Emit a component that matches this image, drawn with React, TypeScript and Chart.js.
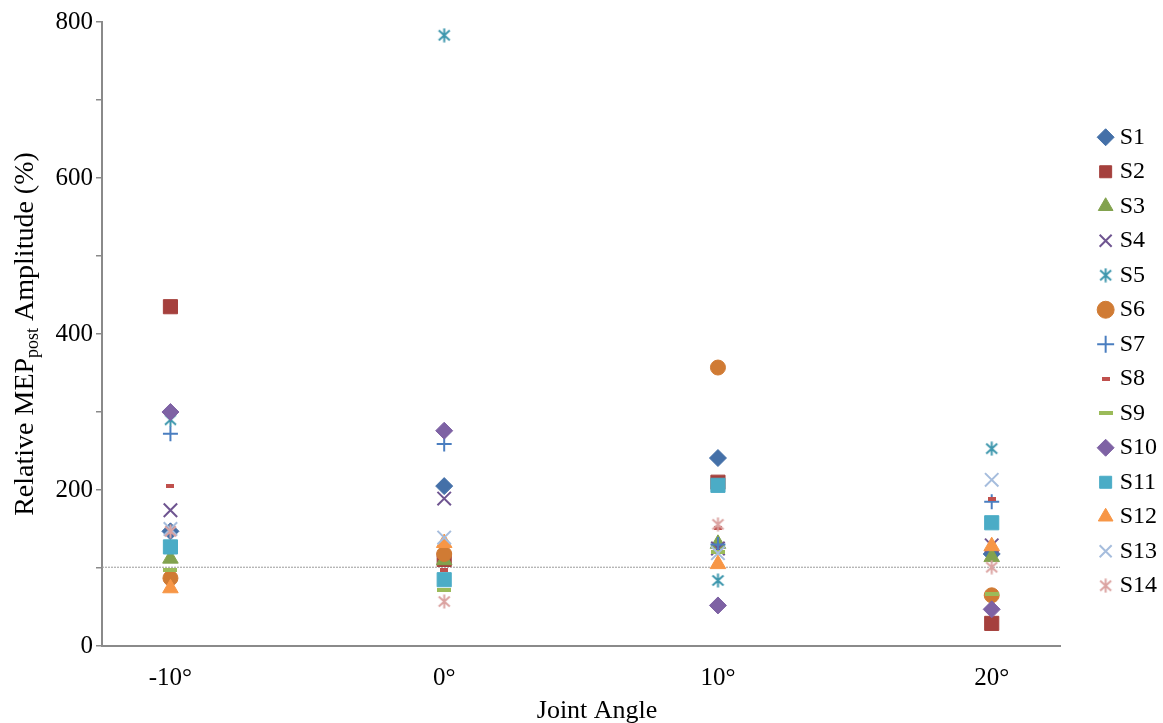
import React, { useEffect, useRef } from 'react';
import { Chart, registerables } from 'chart.js';

Chart.register(...registerables);

// ---------- data ----------
const angles = [-10, 0, 10, 20];
const angleLabels = ['-10°', '0°', '10°', '20°'];
const yTickMarks = [0, 100, 200, 300, 400, 500, 600, 700, 800];
const yTickLabels = ['0', '200', '400', '600', '800'];
const seriesNames = ['S1', 'S2', 'S3', 'S4', 'S5', 'S6', 'S7', 'S8', 'S9', 'S10', 'S11', 'S12', 'S13', 'S14'];

const s1 = [147, 205, 241, 118];
const s2 = [435, 111, 210, 29];
const s3 = [112, 110, 131, 114];
const s4 = [174, 189, 125, 129];
const s5 = [290, 783, 84, 253];
const s6 = [87, 118, 357, 65];
const s7 = [272, 259, 130, 185];
const s8 = [205, 97, 151, 188];
const s9 = [98, 72, 121, 67];
const s10 = [300, 276, 52, 47];
const s11 = [127, 85, 206, 158];
const s12 = [74, 132, 105, 128];
const s13 = [150, 139, 119, 213];
const s14 = [147, 57, 156, 101];
const seriesValues = [s1, s2, s3, s4, s5, s6, s7, s8, s9, s10, s11, s12, s13, s14];

const referenceLevel = 101;
const xRange = [-12.5, 22.5];

// ---------- styles ----------
const colors = [
  '#4470A8', '#A5403D', '#82A24E', '#6F5591', '#3E97AD', '#D07B34', '#4A7EC0',
  '#C0504D', '#9BBB59', '#7E62A4', '#4BACC6', '#F79646', '#A6BDDD', '#DBA3A1',
];
const FONT = '"Liberation Serif", "Times New Roman", serif';

function makeAsterisk(color: string): HTMLCanvasElement {
  const c = document.createElement('canvas');
  c.width = 15; c.height = 15;
  const g = c.getContext('2d')!;
  g.strokeStyle = color; g.lineWidth = 2;
  g.beginPath();
  g.moveTo(7.5, 0.5); g.lineTo(7.5, 14.5);
  g.moveTo(2, 2.5); g.lineTo(13, 12.5);
  g.moveTo(13, 2.5); g.lineTo(2, 12.5);
  g.stroke();
  return c;
}
function makeDash(color: string, w: number, h: number): HTMLCanvasElement {
  const c = document.createElement('canvas');
  c.width = w; c.height = h;
  const g = c.getContext('2d')!;
  g.fillStyle = color; g.fillRect(0, 0, w, h);
  return c;
}

const axisTitles = {
  id: 'axisTitles',
  afterDraw(chart: any) {
    const { ctx, chartArea } = chart;
    ctx.save();
    ctx.fillStyle = '#000';
    ctx.textBaseline = 'alphabetic';
    ctx.textAlign = 'center';
    ctx.font = `26px ${FONT}`;
    ctx.fillText('Joint Angle', (chartArea.left + chartArea.right) / 2 + 16, 718);

    const main = `28px ${FONT}`;
    const sub = `18px ${FONT}`;
    const p1 = 'Relative MEP', p2 = 'post', p3 = ' Amplitude (%)';
    ctx.font = main; const w1 = ctx.measureText(p1).width; const w3 = ctx.measureText(p3).width;
    ctx.font = sub; const w2 = ctx.measureText(p2).width;
    const total = w1 + w2 + w3;
    ctx.translate(0, (chartArea.top + chartArea.bottom) / 2);
    ctx.rotate(-Math.PI / 2);
    ctx.textAlign = 'left';
    let x = -total / 2;
    ctx.font = main; ctx.fillText(p1, x, 33); x += w1;
    ctx.font = sub; ctx.fillText(p2, x, 38); x += w2;
    ctx.font = main; ctx.fillText(p3, x, 33);
    ctx.restore();
  },
};

export default function App() {
  const ref = useRef<HTMLCanvasElement | null>(null);

  useEffect(() => {
    if (!ref.current) return;
    const styles: any[] = [
      { pointStyle: 'rectRot', pointRadius: 8.5, borderWidth: 1 },
      { pointStyle: 'rect', pointRadius: 10, borderWidth: 1 },
      { pointStyle: 'triangle', pointRadius: 9, borderWidth: 1 },
      { pointStyle: 'crossRot', pointRadius: 9.5, borderWidth: 2 },
      { pointStyle: makeAsterisk(colors[4]), pointRadius: 7, borderWidth: 1 },
      { pointStyle: 'circle', pointRadius: 7.5, borderWidth: 1 },
      { pointStyle: 'cross', pointRadius: 7.5, borderWidth: 2 },
      { pointStyle: makeDash(colors[7], 8, 4), pointRadius: 7, borderWidth: 1 },
      { pointStyle: makeDash(colors[8], 14, 4), pointRadius: 7, borderWidth: 1 },
      { pointStyle: 'rectRot', pointRadius: 8.5, borderWidth: 1 },
      { pointStyle: 'rect', pointRadius: 10, borderWidth: 1 },
      { pointStyle: 'triangle', pointRadius: 9, borderWidth: 1 },
      { pointStyle: 'crossRot', pointRadius: 9.5, borderWidth: 2 },
      { pointStyle: makeAsterisk(colors[13]), pointRadius: 7, borderWidth: 1 },
    ];

    const datasets: any[] = seriesNames.map((name, i) => ({
      label: name,
      data: angles.map((a, j) => ({ x: a, y: seriesValues[i][j] })),
      backgroundColor: colors[i],
      borderColor: colors[i],
      pointBackgroundColor: colors[i],
      pointBorderColor: colors[i],
      pointStyle: styles[i].pointStyle,
      pointRadius: styles[i].pointRadius,
      pointHoverRadius: styles[i].pointRadius,
      pointBorderWidth: styles[i].borderWidth,
      borderWidth: styles[i].borderWidth,
      showLine: false,
      order: 20 - i,
    }));
    datasets.push({
      type: 'line',
      label: 'reference',
      data: [{ x: xRange[0], y: referenceLevel }, { x: xRange[1], y: referenceLevel }],
      borderColor: '#9a9a9a',
      borderWidth: 1,
      borderDash: [2, 1],
      pointRadius: 0,
      showLine: true,
      fill: false,
      order: 100,
    });

    const chart = new Chart(ref.current, {
      type: 'scatter',
      data: { datasets },
      plugins: [axisTitles],
      options: {
        animation: false,
        responsive: false,
        layout: { padding: { top: 0, right: -4, bottom: 0, left: 0 } },
        plugins: {
          tooltip: { enabled: false },
          title: { display: false },
          legend: {
            position: 'right',
            labels: {
              usePointStyle: true,
              boxWidth: 4,
              boxHeight: 12,
              padding: 10.5,
              color: '#000',
              font: { family: FONT, size: 24 },
              filter: (item: any) => item.datasetIndex < seriesNames.length,
              sort: (a: any, b: any) => a.datasetIndex - b.datasetIndex,
            },
          },
        },
        scales: {
          x: {
            type: 'linear',
            min: xRange[0],
            max: xRange[1],
            afterBuildTicks: (s: any) => { s.ticks = angles.map((v) => ({ value: v })); },
            afterFit: (s: any) => { s.height = 77; },
            ticks: {
              autoSkip: false,
              maxRotation: 0,
              padding: 17,
              color: '#000',
              font: { family: FONT, size: 25 },
              callback: (v: any) => {
                const k = angles.indexOf(Number(v));
                return k >= 0 ? angleLabels[k] : '';
              },
            },
            grid: { display: true, drawOnChartArea: false, drawTicks: false },
            border: { display: true, color: '#8a8a8a', width: 2 },
          },
          xTop: {
            type: 'linear',
            position: 'top',
            display: true,
            min: 0,
            max: 1,
            ticks: { display: false },
            grid: { display: false },
            border: { display: false },
            afterFit: (s: any) => { s.height = 22; },
          },
          y: {
            type: 'linear',
            min: 0,
            max: 800,
            afterBuildTicks: (s: any) => { s.ticks = yTickMarks.map((v) => ({ value: v })); },
            afterFit: (s: any) => { s.width = 102; },
            ticks: {
              padding: 3,
              color: '#000',
              font: { family: FONT, size: 25 },
              callback: (v: any) => (yTickLabels.includes(String(v)) ? String(v) : ''),
            },
            grid: { display: true, drawOnChartArea: false, drawTicks: true, tickLength: 6, color: '#8a8a8a', lineWidth: 1.5 },
            border: { display: true, color: '#8a8a8a', width: 2 },
          },
          yR: {
            type: 'linear',
            position: 'right',
            display: true,
            min: 0,
            max: 1,
            ticks: { display: false },
            grid: { display: false },
            border: { display: false },
            afterFit: (s: any) => { s.width = 33; },
          },
        },
      } as any,
    });
    return () => chart.destroy();
  }, []);

  return (
    <div style={{ position: 'fixed', left: 0, top: 0, width: 1163, height: 723, background: '#fff' }}>
      <canvas ref={ref} width={1163} height={723} style={{ display: 'block' }} />
    </div>
  );
}
